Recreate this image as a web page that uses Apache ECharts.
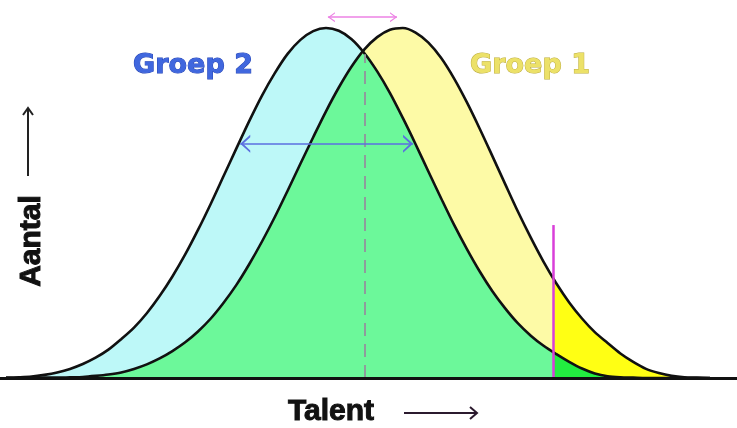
<!DOCTYPE html>
<html>
<head>
<meta charset="utf-8">
<script src="https://cdn.jsdelivr.net/npm/echarts/dist/echarts.min.js"></script>
<style>
html, body { margin: 0; padding: 0; background: #fff; }
#chart { width: 737px; height: 428px; }
</style>
</head>
<body>
<div id="chart"></div>
<script>
// talent scores on the x axis, number of people (peak = 100) on the y axis
var talent = [50,52,54,56,58,60,62,64,66,68,70,72,74,76,78,80,82,84,86,88,90,92,94,96,98,100,
              102,104,106,108,110,112,114,116,118,120,122,124,126,128,130,132,134,136,138,140,
              142,144,146,148,150,152,154,156,158,160];
var groep2 = [0.1,0.2,0.4,0.9,1.6,2.6,4.0,5.8,8.1,11.1,14.4,18.5,23.4,29.0,35.3,42.3,49.8,57.7,65.6,73.4,80.7,87.1,92.6,96.6,99.1,100,
              99.2,96.8,92.8,87.6,81.4,74.3,66.8,59.0,51.3,43.8,36.9,30.5,24.8,19.9,15.6,12.1,9.2,6.8,4.6,2.7,
              1.3,0.5,0.2,0.1,0,0,0,0,0,0];
var groep1 = [0,0,0,0.1,0.1,0.2,0.3,0.6,1.0,1.6,2.6,3.9,5.6,7.7,10.2,13.3,17.0,21.5,26.6,32.5,39.0,46.0,53.5,61.2,68.8,76.2,
              83.0,89.0,93.9,97.4,99.5,100,98.7,95.8,91.4,85.6,78.8,71.3,63.4,55.4,47.5,40.1,33.2,27.0,21.6,17.0,
              13.1,10.0,7.0,4.6,2.6,1.4,0.6,0.2,0.1,0];

var cutoff = 135.5;          // selection threshold (magenta line)
var crossing = [106, 92.5];  // where the two curves meet
var spread = [86.6, 113.6, 66.9];      // blue arrow: from, to, height
var shift = [100.3, 111.1, 103.1];     // pink arrow: from, to, height

var chevron = 'path://M10,0L10,0M10,10L20,20L17.4,20L10,12.9L2.6,20L0,20Z';

var chart = echarts.init(document.getElementById('chart'));

function pairs(values) {
    return talent.map(function (t, i) { return [t, values[i]]; });
}
var both = talent.map(function (t, i) { return [t, Math.min(groep1[i], groep2[i])]; });
var lo = talent[0], hi = talent[talent.length - 1];

chart.setOption({
    animation: false,
    backgroundColor: '#fff',
    grid: { left: 0, right: 0, top: 0, bottom: 50 },
    xAxis: {
        type: 'value', min: 49.0625, max: 164.21875, z: 10,
        axisLine: { lineStyle: { color: '#111', width: 3 } },
        axisTick: { show: false }, axisLabel: { show: false }, splitLine: { show: false }
    },
    yAxis: { type: 'value', min: 0, max: 108, show: false },
    visualMap: [
        { type: 'piecewise', show: false, dimension: 0, seriesIndex: 1,
          pieces: [{ gte: lo, lt: cutoff, color: '#fdfaa6' }, { gte: cutoff, lte: hi, color: '#ffff14' }] },
        { type: 'piecewise', show: false, dimension: 0, seriesIndex: 2,
          pieces: [{ gte: lo, lt: cutoff, color: '#6cf89a' }, { gte: cutoff, lte: hi, color: '#22ee40' }] }
    ],
    series: [
        { name: 'Groep 2', type: 'line', data: pairs(groep2), smooth: 0.3, showSymbol: false,
          lineStyle: { width: 0 }, areaStyle: { color: '#bdf8f8', opacity: 1 } },
        { name: 'Groep 1', type: 'line', data: pairs(groep1), smooth: 0.3, showSymbol: false,
          lineStyle: { width: 0 }, areaStyle: { opacity: 1 } },
        { name: 'beide', type: 'line', data: both, smooth: 0.3, showSymbol: false,
          lineStyle: { width: 0 }, areaStyle: { opacity: 1 },
          markLine: {
              silent: true, symbol: 'none', label: { show: false },
              data: [
                  [{ coord: [crossing[0], 0], lineStyle: { color: '#8e9c9c', width: 2, type: [13, 8] } },
                   { coord: [crossing[0], crossing[1]] }]
              ]
          } },
        { type: 'line', data: pairs(groep2), smooth: 0.3, showSymbol: false,
          lineStyle: { color: '#111', width: 2.6 } },
        { type: 'line', data: pairs(groep1), smooth: 0.3, showSymbol: false,
          lineStyle: { color: '#111', width: 2.6 },
          markLine: {
              silent: true, symbol: 'none', label: { show: false },
              data: [
                  [{ coord: [cutoff, 0], lineStyle: { color: '#d93fd9', width: 2.5, type: 'solid' } },
                   { coord: [cutoff, 43.7] }],
                  [{ coord: [spread[0], spread[2]], symbol: chevron, symbolSize: [18, 20],
                     lineStyle: { color: '#5b6fe0', width: 1.6, type: 'solid' } },
                   { coord: [spread[1], spread[2]], symbol: chevron, symbolSize: [18, 20] }],
                  [{ coord: [shift[0], shift[2]], symbol: chevron, symbolSize: [10, 14],
                     lineStyle: { color: '#ec82e4', width: 1.6, type: 'solid' } },
                   { coord: [shift[1], shift[2]], symbol: chevron, symbolSize: [10, 14] }]
              ]
          } }
    ],
    graphic: [
        { type: 'text', x: 193, y: 66, z: 20,
          style: { text: 'Groep 2', font: 'bold 27px "DejaVu Sans"', fill: '#4067de',
                   stroke: '#2545b6', lineWidth: 1, align: 'center', verticalAlign: 'middle' } },
        { type: 'text', x: 530, y: 66, z: 20,
          style: { text: 'Groep 1', font: 'bold 27px "DejaVu Sans"', fill: '#ece168',
                   stroke: '#bcac3e', lineWidth: 1, align: 'center', verticalAlign: 'middle' } },
        { type: 'text', x: 331, y: 412, z: 20,
          style: { text: 'Talent', font: 'bold 30px "Liberation Sans"', fill: '#111',
                   stroke: '#111', lineWidth: 1, align: 'center', verticalAlign: 'middle' } },
        { type: 'text', x: 32, y: 241, z: 20, rotation: Math.PI / 2,
          style: { text: 'Aantal', font: 'bold 30px "Liberation Sans"', fill: '#111',
                   stroke: '#111', lineWidth: 1, align: 'center', verticalAlign: 'middle' } },
        { type: 'polyline', z: 20, shape: { points: [[28, 176], [28, 108]] },
          style: { stroke: '#222', lineWidth: 2, fill: 'none' } },
        { type: 'polyline', z: 20, shape: { points: [[23, 115], [28, 108], [33, 115]] },
          style: { stroke: '#222', lineWidth: 2, fill: 'none' } },
        { type: 'polyline', z: 20, shape: { points: [[404, 413], [477, 413]] },
          style: { stroke: '#2b1a2e', lineWidth: 2, fill: 'none' } },
        { type: 'polyline', z: 20, shape: { points: [[470, 407], [477, 413], [470, 419]] },
          style: { stroke: '#2b1a2e', lineWidth: 2, fill: 'none' } }
    ]
});
</script>
</body>
</html>
